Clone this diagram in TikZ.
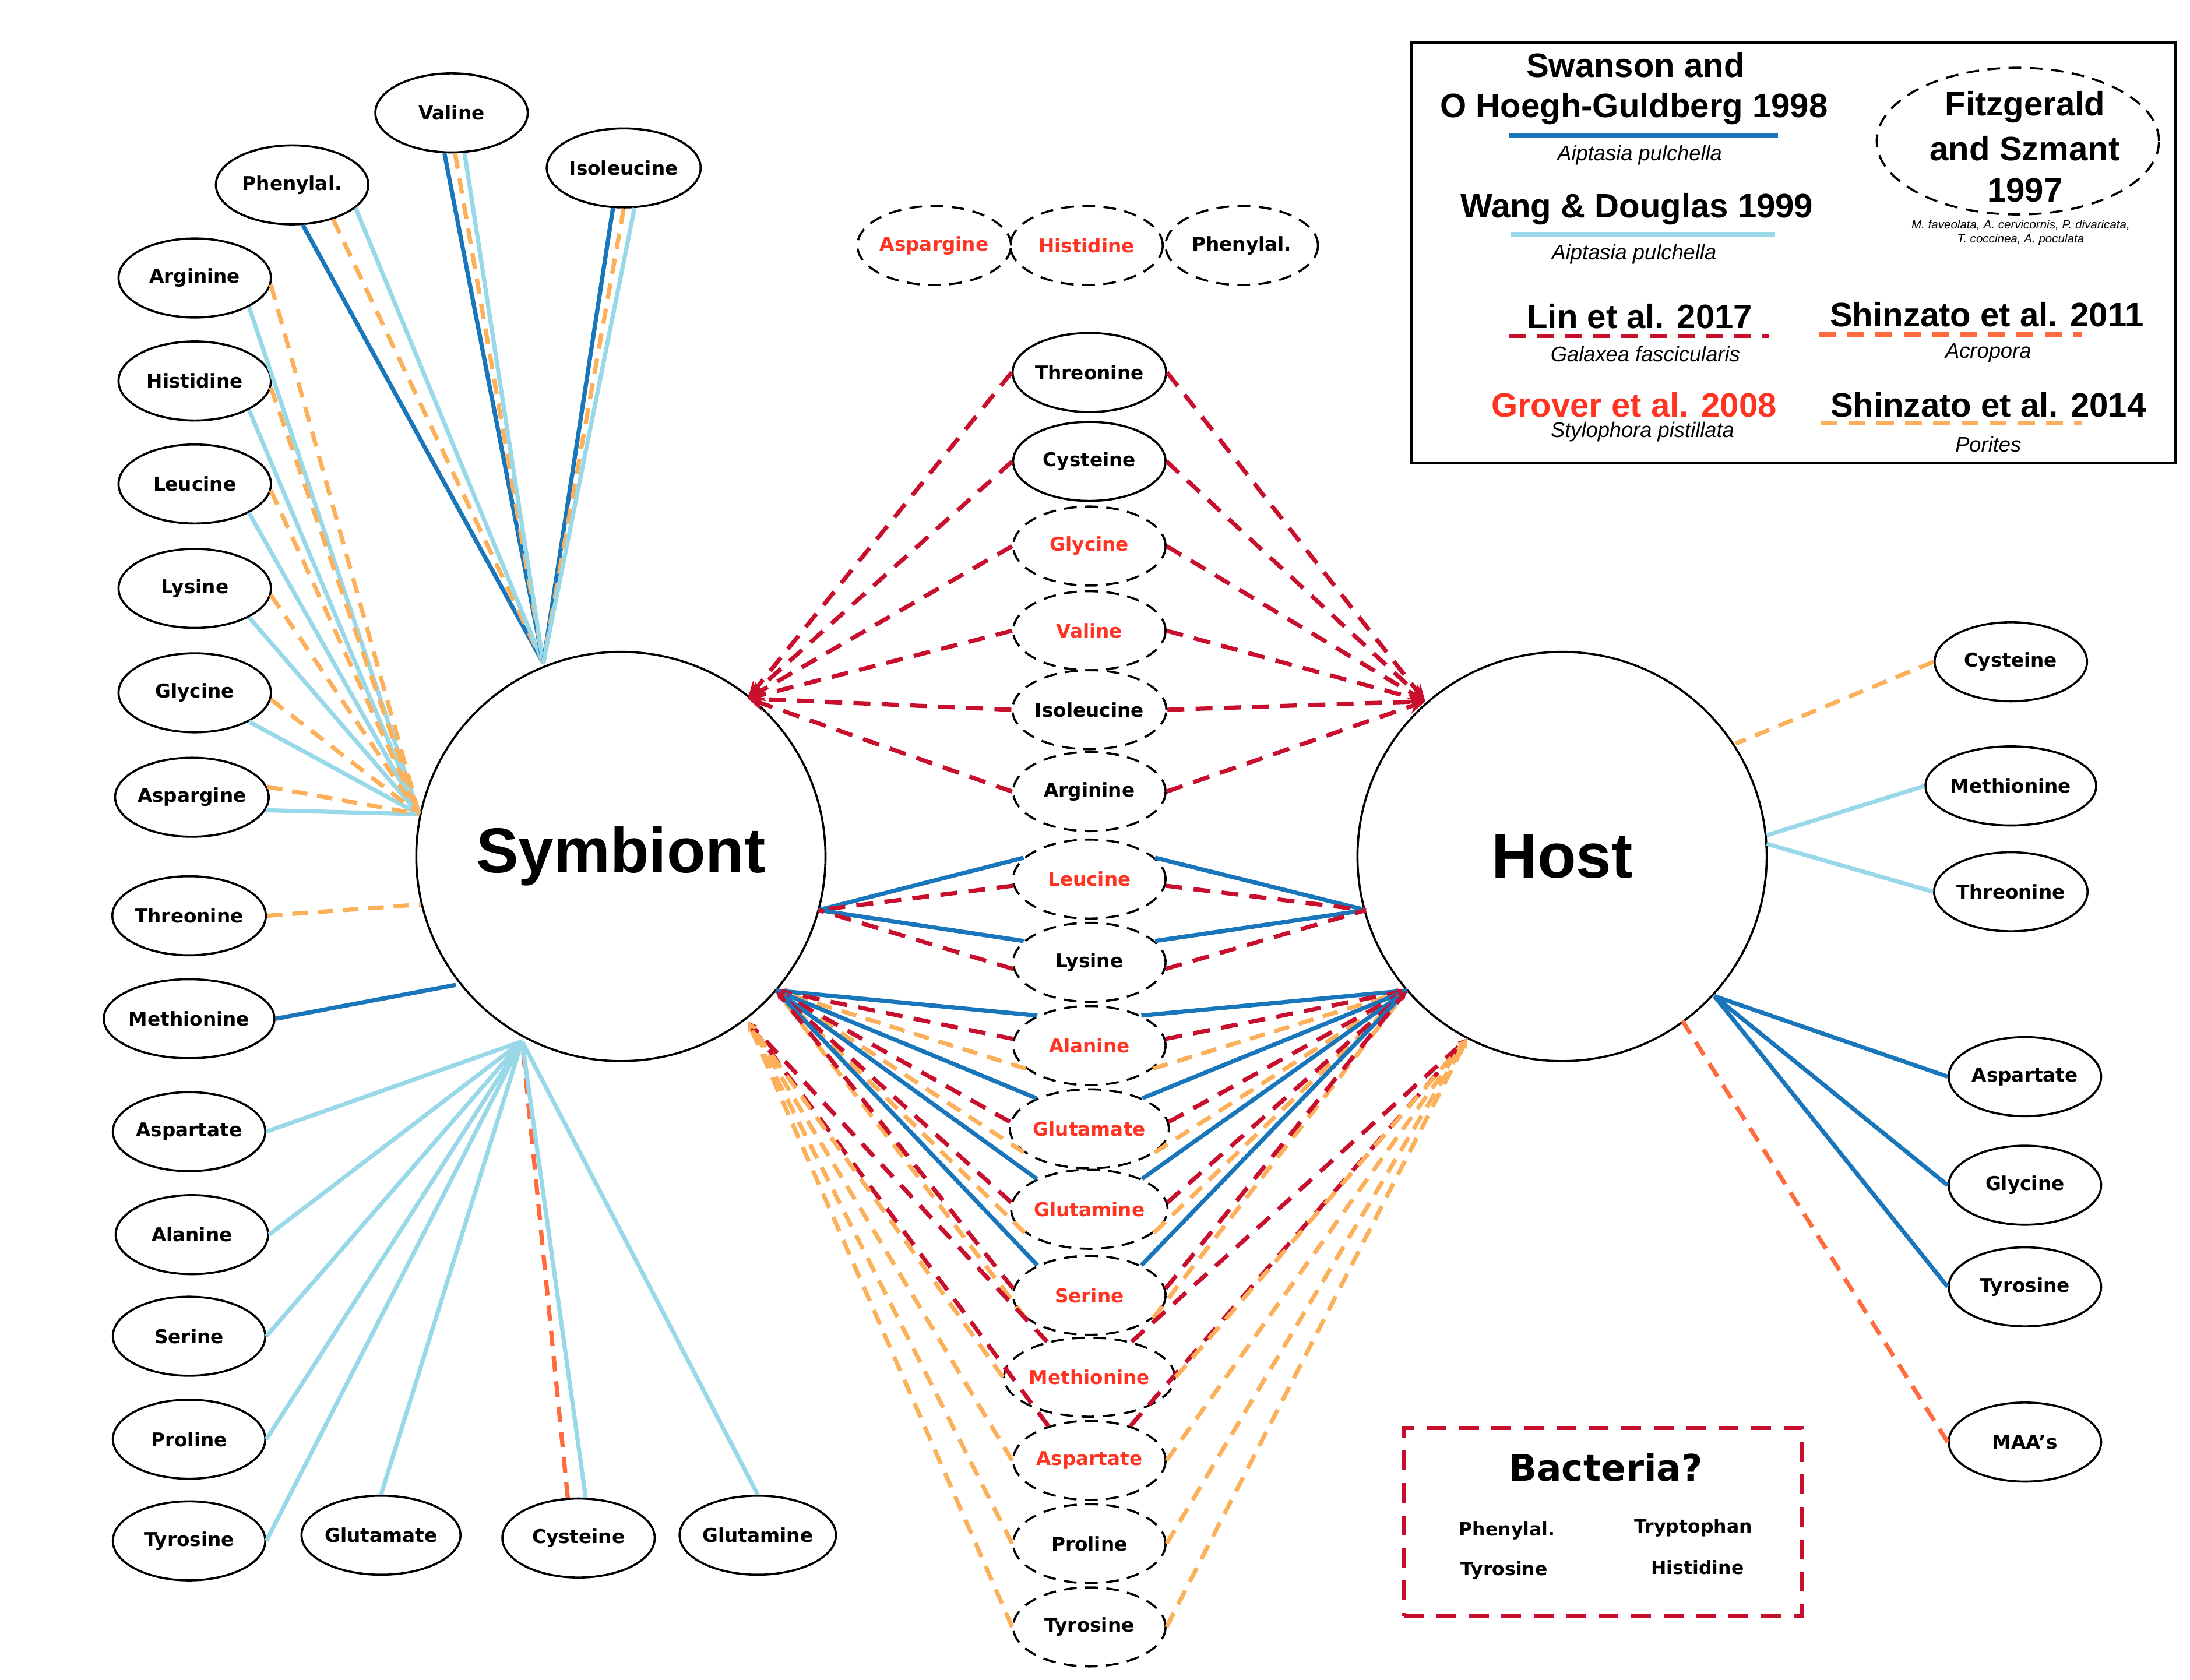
\documentclass[tikz,border=0pt]{standalone}
\usepackage{fontspec}
\setmainfont{Liberation Sans}
\newfontfamily\nodefont{DejaVu Sans}
\usetikzlibrary{shapes.geometric,arrows.meta}
\definecolor{dblue}{HTML}{1A76BB}
\definecolor{lblue}{HTML}{99D8E9}
\definecolor{orng}{HTML}{FDB05A}
\definecolor{orred}{HTML}{FF6B3D}
\definecolor{dred}{HTML}{C8102E}
\definecolor{tred}{HTML}{FF3322}
\begin{document}
\begin{tikzpicture}[x=1pt,y=-1pt,
  aa/.style={ellipse,draw,line width=1.5pt,minimum width=108pt,minimum height=56pt,inner sep=0pt,font=\nodefont\bfseries\fontsize{13.5}{15}\selectfont},
  da/.style={aa,dashed,dash pattern=on 9pt off 6pt},
  big/.style={circle,draw,line width=1.5pt,minimum size=290pt,inner sep=0pt,font=\bfseries\fontsize{45}{50}\selectfont},
  db/.style={dblue,line width=3pt},
  lb/.style={lblue,line width=3pt},
  og/.style={orng,line width=3pt,dash pattern=on 11pt off 7pt},
  orr/.style={orred,line width=3pt,dash pattern=on 11pt off 7pt},
  rd/.style={dred,line width=3pt,dash pattern=on 12pt off 8pt},
  ar/.style={-{Stealth[length=12pt,width=10pt]}},
  sa/.style={-{Stealth[length=7pt,width=6pt]}},
  leg/.style={font=\bfseries\fontsize{24}{26}\selectfont,inner sep=0pt},
  sp/.style={font=\itshape\fontsize{15}{17}\selectfont,inner sep=0pt},
  bi/.style={font=\nodefont\bfseries\fontsize{13}{15}\selectfont}]
\useasboundingbox (0,0) rectangle (1552,1190.6);

% main circles
\node[big] (sym) at (440,607) {Symbiont};
\node[big] (host) at (1107,607) {Host};

% connection points
\coordinate (sT) at (385,470);
\coordinate (sL) at (297,577);
\coordinate (sB) at (370,738);
\coordinate (sTh) at (298,641);
\coordinate (sMe) at (323,698);
\coordinate (mS1) at (530,495);
\coordinate (mS2) at (580,645);
\coordinate (mS3) at (550,702);
\coordinate (mS4) at (530,724);
\coordinate (mH1) at (1010,497);
\coordinate (mH2) at (968,645);
\coordinate (mH3) at (997,702);
\coordinate (mH4) at (1040,736);
\coordinate (hC) at (1230,527);
\coordinate (hM) at (1252,592);
\coordinate (hT) at (1252,598);
\coordinate (hB) at (1215,706);
\coordinate (hMA) at (1192,723);

% left nodes
\node[aa] (lphe) at (207,131) {Phenylal.};
\node[aa] (lval) at (320,80) {Valine};
\node[aa] (lile) at (442,119) {Isoleucine};
\node[aa] (larg) at (138,197) {Arginine};
\node[aa] (lhis) at (138,270) {Histidine};
\node[aa] (lleu) at (138,343) {Leucine};
\node[aa] (llys) at (138,417) {Lysine};
\node[aa] (lgly) at (138,491) {Glycine};
\node[aa] (lasn) at (136,565) {Aspargine};
\node[aa] (lthr) at (134,649) {Threonine};
\node[aa] (lmet) at (134,722) {Methionine};
\node[aa] (lasp) at (134,802) {Aspartate};
\node[aa] (lala) at (136,875) {Alanine};
\node[aa] (lser) at (134,947) {Serine};
\node[aa] (lpro) at (134,1020) {Proline};
\node[aa] (ltyr) at (134,1092) {Tyrosine};
\node[aa] (lglu) at (270,1088) {Glutamate};
\node[aa] (lcys) at (410,1090) {Cysteine};
\node[aa] (lgln) at (537,1088) {Glutamine};

% top-left lines
\draw[db] (lphe.-75) -- (sT);
\draw[og] (lphe.-40) -- (sT);
\draw[lb] (lphe.-20) -- (sT);
\draw[db] (lval.-100) -- (sT);
\draw[og] (lval.-85) -- (sT);
\draw[lb] (lval.-72) -- (sT);
\draw[db] (lile.-105) -- (sT);
\draw[og] (lile.-90) -- (sT);
\draw[lb] (lile.-75) -- (sT);
\foreach \n in {larg,lhis,lleu,llys,lgly}{
  \draw[lb] (\n.-28) -- (sL);
  \draw[og] (\n.-5) -- (sL);
}
\draw[lb] (lasn.-10) -- (sL);
\draw[og] (lasn.8) -- (sL);
\draw[og] (lthr.east) -- (sTh);
\draw[db] (lmet.east) -- (sMe);
\foreach \n in {lasp,lala,lser,lpro,ltyr}{\draw[lb] (\n.east) -- (sB);}
\draw[lb] (lglu.north) -- (sB);
\draw[orr] (lcys.105) -- (sB);
\draw[lb] (lcys.80) -- (sB);
\draw[lb] (lgln.north) -- (sB);

% middle nodes
\node[da,text=tred] (tasn) at (662,174) {Aspargine};
\node[da,text=tred] (this) at (770,174) {Histidine};
\node[da] (tphe) at (880,174) {Phenylal.};

\node[aa] (mthr) at (772,264) {Threonine};
\node[aa] (mcys) at (772,327) {Cysteine};
\node[da,text=tred] (mgly) at (772,387) {Glycine};
\node[da,text=tred] (mval) at (772,447) {Valine};
\node[da] (mile) at (772,503) {Isoleucine};
\node[da] (marg) at (772,561) {Arginine};
\node[da,text=tred] (mleu) at (772,623) {Leucine};
\node[da] (mlys) at (772,682) {Lysine};
\node[da,text=tred] (mala) at (772,741) {Alanine};
\node[da,text=tred] (mglu) at (772,800) {Glutamate};
\node[da,text=tred] (mgln) at (772,857) {Glutamine};
\node[da,text=tred] (mser) at (772,918) {Serine};
\node[da,text=tred] (mmet) at (772,976) {Methionine};
\node[da,text=tred] (masp) at (772,1035) {Aspartate};
\node[da] (mpro) at (772,1094) {Proline};
\node[da] (mtyr) at (772,1153) {Tyrosine};

\foreach \n in {mthr,mcys,mgly,mval,mile,marg}{
  \draw[rd,ar] (\n.west) -- (mS1);
  \draw[rd,ar] (\n.east) -- (mH1);
}
\foreach \n in {mleu,mlys}{
  \draw[db] (\n.162) -- (mS2);
  \draw[rd] (\n.185) -- (mS2);
  \draw[db] (\n.18) -- (mH2);
  \draw[rd] (\n.-5) -- (mH2);
}
\foreach \n in {mala,mglu,mgln,mser}{
  \draw[og,sa] (\n.200) -- (mS3);
  \draw[db] (\n.150) -- (mS3);
  \draw[rd,sa] (\n.175) -- (mS3);
  \draw[og,sa] (\n.-20) -- (mH3);
  \draw[db] (\n.30) -- (mH3);
  \draw[rd,sa] (\n.5) -- (mH3);
}
\foreach \n in {mmet,masp}{
  \draw[rd,sa] (\n.140) -- (mS4);
  \draw[rd,sa] (\n.40) -- (mH4);
}
\foreach \n in {mmet,masp,mpro,mtyr}{
  \draw[og,sa] (\n.180) -- (mS4);
  \draw[og,sa] (\n.0) -- (mH4);
}

% right nodes
\node[aa] (rcys) at (1425,469) {Cysteine};
\node[aa] (rmet) at (1425,557) {Methionine};
\node[aa] (rthr) at (1425,632) {Threonine};
\node[aa] (rasp) at (1435,763) {Aspartate};
\node[aa] (rgly) at (1435,840) {Glycine};
\node[aa] (rtyr) at (1435,912) {Tyrosine};
\node[aa] (rmaa) at (1435,1022) {MAA’s};
\draw[og] (rcys.west) -- (hC);
\draw[lb] (rmet.west) -- (hM);
\draw[lb] (rthr.west) -- (hT);
\draw[db] (rasp.west) -- (hB);
\draw[db] (rgly.west) -- (hB);
\draw[db] (rtyr.west) -- (hB);
\draw[orr] (rmaa.west) -- (hMA);

% bacteria box
\node[draw=dred,line width=3pt,dash pattern=on 14pt off 9pt,minimum width=282pt,minimum height=133pt,inner sep=0pt] (bact) at (1136,1078.5) {};
\node[font=\nodefont\bfseries\fontsize{26}{28}\selectfont] (btitle) at (1138,1040) {Bacteria?};
\node[bi] (b1) at (1068,1085) {Phenylal.};
\node[bi] (b2) at (1066,1113) {Tyrosine};
\node[bi] (b3) at (1200,1083) {Tryptophan};
\node[bi] (b4) at (1203,1111) {Histidine};

% legend
\node[draw,line width=2pt,minimum width=542pt,minimum height=298pt,inner sep=0pt] (legbox) at (1271,179) {};
\node[leg] (l1a) at (1159,46) {Swanson and};
\node[leg] (l1b) at (1158,77) {O Hoegh-Guldberg 1998};
\draw[dblue,line width=3pt] (1069,96) coordinate (u1a) -- (1260,96) coordinate (u1b);
\node[sp] (l1c) at (1162,110) {Aiptasia pulchella};
\node[leg] (l2a) at (1160,148) {Wang \& Douglas 1999};
\draw[lblue,line width=3pt] (1071,166) coordinate (u2a) -- (1258,166) coordinate (u2b);
\node[sp] (l2c) at (1158,180) {Aiptasia pulchella};
\node[ellipse,draw,line width=1.5pt,dash pattern=on 9pt off 6pt,minimum width=200pt,minimum height=104pt] (fitz) at (1430,100) {};
\node[leg] (l3a) at (1435,76) {Fitzgerald};
\node[leg] (l3b) at (1435,105) {and Szmant};
\node[leg] (l3c) at (1435,135) {1997};
\node[font=\itshape\fontsize{8.5}{10}\selectfont,align=center] (l3s) at (1432,165) {M. faveolata, A. cervicornis, P. divaricata,\\T. coccinea, A. poculata};
\node[leg] (l4) at (1162,224) {Lin et al. 2017};
\draw[dred,line width=3pt,dash pattern=on 12pt off 8pt] (1069,238) coordinate (u4a) -- (1254,238) coordinate (u4b);
\node[sp] (l4c) at (1166,251) {Galaxea fascicularis};
\node[leg] (l5) at (1408,223) {Shinzato et al. 2011};
\draw[orred,line width=3pt,dash pattern=on 12pt off 8pt] (1289,237) coordinate (u5a) -- (1475,237) coordinate (u5b);
\node[sp] (l5c) at (1409,250) {Acropora};
\node[leg,text=tred] (l6) at (1158,287) {Grover et al. 2008};
\node[sp] (l6c) at (1164,306) {Stylophora pistillata};
\node[leg] (l7) at (1409,287) {Shinzato et al. 2014};
\draw[orng,line width=3pt,dash pattern=on 12pt off 8pt] (1290,300) coordinate (u7a) -- (1475,300) coordinate (u7b);
\node[sp] (l7c) at (1409,315) {Porites};
\end{tikzpicture}
\end{document}
